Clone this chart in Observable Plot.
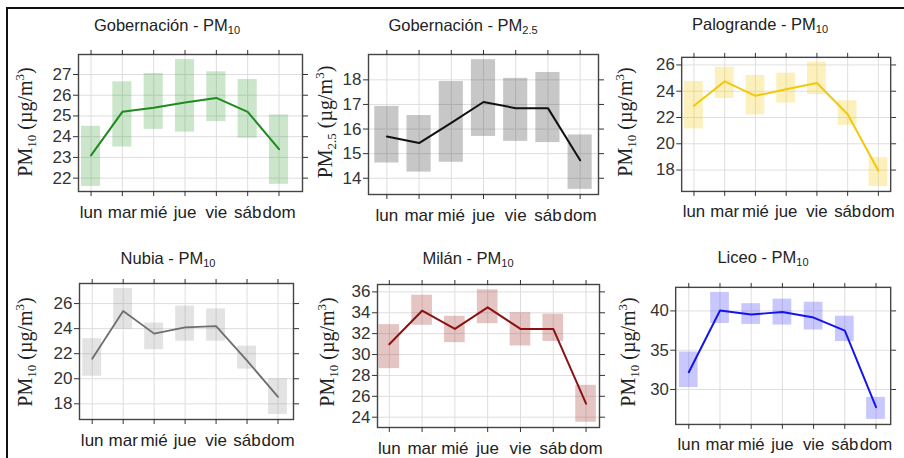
<!DOCTYPE html>
<html>
<head>
<meta charset="utf-8">
<script src="https://cdn.jsdelivr.net/npm/d3@7"></script>
<script src="https://cdn.jsdelivr.net/npm/@observablehq/plot@0.6"></script>
<style>
  body { margin: 0; background: #fff; }
  #fig { position: relative; width: 904px; height: 458px; overflow: hidden; background: #fff;
         font-family: "Liberation Sans", Arial, sans-serif; }
  .rule-top { position: absolute; left: 6px; top: 7px; width: 900px; height: 0; border-top: 2.5px solid #111; }
  .rule-left { position: absolute; left: 6px; top: 7px; width: 0; height: 460px; border-left: 2.5px solid #111; }
  .title { position: absolute; transform: translate(-50%, -50%); font-size: 16.5px; color: #222; white-space: nowrap; }
  .title sub { font-size: 11px; vertical-align: -3px; line-height: 0; }
  .ylab { position: absolute; transform: translate(-50%, -50%) rotate(-90deg); white-space: nowrap;
          font-family: "Liberation Serif", "Times New Roman", serif; font-size: 20px; color: #222; }
  .ylab sub { font-size: 13px; vertical-align: -4px; line-height: 0; }
  .ylab sup { font-size: 13px; vertical-align: 8px; line-height: 0; }
  .panel { position: absolute; }
</style>
</head>
<body>
<div id="fig"><div class="rule-top"></div><div class="rule-left"></div></div>
<script>
// Day-of-week categories
const days = ["lun", "mar", "mié", "jue", "vie", "sáb", "dom"];

// Gobernación PM10: daily mean and confidence band
const gobPm10Mean = [23.1, 25.2, 25.4, 25.65, 25.87, 25.2, 23.4];
const gobPm10Lo   = [21.6, 23.5, 24.35, 24.22, 24.73, 23.93, 21.7];
const gobPm10Hi   = [24.5, 26.65, 27.05, 27.72, 27.13, 26.76, 25.05];
const gobPm10Ticks = [22, 23, 24, 25, 26, 27];

// Gobernación PM2.5
const gobPm25Mean = [15.7, 15.43, 16.25, 17.1, 16.85, 16.85, 14.73];
const gobPm25Lo   = [14.62, 14.25, 14.65, 15.7, 15.5, 15.45, 13.55];
const gobPm25Hi   = [16.92, 16.55, 17.93, 18.82, 18.06, 18.3, 15.76];
const gobPm25Ticks = [14, 15, 16, 17, 18];

// Palogrande PM10
const palPm10Mean = [22.9, 24.75, 23.65, 24.15, 24.63, 22.25, 17.95];
const palPm10Lo   = [21.13, 23.45, 22.2, 23.1, 23.75, 21.4, 16.75];
const palPm10Hi   = [24.75, 25.82, 25.2, 25.38, 26.2, 23.28, 18.95];
const palPm10Ticks = [18, 20, 22, 24, 26];

// Nubia PM10
const nubPm10Mean = [21.6, 25.4, 23.6, 24.1, 24.2, 21.45, 18.55];
const nubPm10Lo   = [20.2, 23.95, 22.32, 23.0, 23.0, 20.77, 17.15];
const nubPm10Hi   = [23.2, 27.2, 24.45, 25.8, 25.57, 22.6, 20.0];
const nubPm10Ticks = [18, 20, 22, 24, 26];

// Milán PM10
const milPm10Mean = [30.98, 34.2, 32.45, 34.52, 32.45, 32.45, 25.3];
const milPm10Lo   = [28.65, 32.8, 31.14, 32.96, 30.82, 31.26, 23.52];
const milPm10Hi   = [32.86, 35.68, 33.66, 36.2, 34.0, 33.86, 27.05];
const milPm10Ticks = [24, 26, 28, 30, 32, 34, 36];

// Liceo PM10
const licPm10Mean = [32.2, 40.05, 39.55, 39.85, 39.15, 37.5, 27.75];
const licPm10Lo   = [30.25, 38.4, 38.28, 38.2, 37.57, 36.1, 26.2];
const licPm10Hi   = [34.77, 42.35, 40.92, 41.5, 41.1, 39.33, 29.0];
const licPm10Ticks = [30, 35, 40];

// Series definitions
const series = [
  { station: "Gobernación", sub: "10",  mean: gobPm10Mean, lo: gobPm10Lo, hi: gobPm10Hi, ticks: gobPm10Ticks },
  { station: "Gobernación", sub: "2.5", mean: gobPm25Mean, lo: gobPm25Lo, hi: gobPm25Hi, ticks: gobPm25Ticks },
  { station: "Palogrande",  sub: "10",  mean: palPm10Mean, lo: palPm10Lo, hi: palPm10Hi, ticks: palPm10Ticks },
  { station: "Nubia",       sub: "10",  mean: nubPm10Mean, lo: nubPm10Lo, hi: nubPm10Hi, ticks: nubPm10Ticks },
  { station: "Milán",       sub: "10",  mean: milPm10Mean, lo: milPm10Lo, hi: milPm10Hi, ticks: milPm10Ticks },
  { station: "Liceo",       sub: "10",  mean: licPm10Mean, lo: licPm10Lo, hi: licPm10Hi, ticks: licPm10Ticks }
];

// Colours per panel: line stroke and band fill
const styles = [
  { line: "#1f8a1f", band: "#2e9a2e", bandOpacity: 0.25, width: 2 },
  { line: "#111111", band: "#444444", bandOpacity: 0.3,  width: 2 },
  { line: "#f2c80a", band: "#f5d020", bandOpacity: 0.3,  width: 2 },
  { line: "#6e6e6e", band: "#9a9a9a", bandOpacity: 0.28, width: 1.8 },
  { line: "#8b1212", band: "#a83a3a", bandOpacity: 0.3,  width: 2 },
  { line: "#1414f0", band: "#3a3aff", bandOpacity: 0.28, width: 2 }
];

// Panel geometry: plotting box (left, top, width, height), x extent in day units,
// band width in day units, title centre and y-label centre
const layout = [
  { box: [78, 54, 224, 137], xDom: [-0.40, 6.75], bw: 0.61, title: [167, 25], ylab: [25, 122] },
  { box: [368, 54, 230, 140], xDom: [-0.57, 6.57], bw: 0.75, title: [463, 25], ylab: [325, 122] },
  { box: [682, 57, 212, 136], xDom: [-0.40, 6.40], bw: 0.61, title: [760, 24], ylab: [625, 122] },
  { box: [79, 283, 214, 136], xDom: [-0.41, 6.50], bw: 0.61, title: [168, 258], ylab: [25, 352] },
  { box: [377, 284, 222, 143], xDom: [-0.36, 6.41], bw: 0.63, title: [468, 258], ylab: [327, 352] },
  { box: [676, 287, 218, 139], xDom: [-0.42, 6.47], bw: 0.60, title: [763, 257], ylab: [628, 352] }
];

const fig = document.getElementById("fig");
const idx = d3.range(days.length);
const mL = 60, mR = 14, mT = 10, mB = 32;

series.forEach((s, k) => {
  const L = layout[k], st = styles[k];
  const rows = idx.map(i => ({ i, mean: s.mean[i], lo: s.lo[i], hi: s.hi[i] }));
  // y extent: data range widened by 4% on each side
  const ext = [d3.min(s.lo), d3.max(s.hi)];
  const pad = (ext[1] - ext[0]) * 0.04;
  const [bx, by, bwPx, bhPx] = L.box;

  const svg = Plot.plot({
    width: bwPx + mL + mR,
    height: bhPx + mT + mB,
    marginLeft: mL, marginRight: mR, marginTop: mT, marginBottom: mB,
    style: { fontSize: "17px", fontFamily: "'Liberation Sans', Arial, sans-serif", color: "#333", background: "transparent", overflow: "visible" },
    x: { type: "linear", domain: L.xDom },
    y: { type: "linear", domain: [ext[0] - pad, ext[1] + pad] },
    marks: [
      Plot.gridX({ ticks: idx, stroke: "#dedede", strokeOpacity: 1, strokeWidth: 1 }),
      Plot.gridY({ ticks: s.ticks, stroke: "#dedede", strokeOpacity: 1, strokeWidth: 1 }),
      Plot.rect(rows, { x1: d => d.i - L.bw / 2, x2: d => d.i + L.bw / 2, y1: "lo", y2: "hi",
                        fill: st.band, fillOpacity: st.bandOpacity }),
      Plot.line(rows, { x: "i", y: "mean", stroke: st.line, strokeWidth: st.width }),
      Plot.frame({ stroke: "#444", strokeWidth: 1.4 }),
      Plot.axisX({ ticks: idx, tickFormat: i => days[i], tickSize: 5, tickPadding: 9, label: null, fill: "#222" }),
      Plot.axisX({ anchor: "top", ticks: idx, tickFormat: () => "", tickSize: 5, label: null }),
      Plot.axisY({ ticks: s.ticks, tickFormat: d => String(d), tickSize: 5, tickPadding: 2, label: null, fill: "#333" }),
      Plot.axisY({ anchor: "right", ticks: s.ticks, tickFormat: () => "", tickSize: 5, label: null })
    ]
  });
  const wrap = document.createElement("div");
  wrap.className = "panel";
  wrap.style.left = (bx - mL) + "px";
  wrap.style.top = (by - mT) + "px";
  wrap.appendChild(svg);
  fig.appendChild(wrap);

  const t = document.createElement("div");
  t.className = "title";
  t.style.left = L.title[0] + "px";
  t.style.top = L.title[1] + "px";
  t.innerHTML = `${s.station} - PM<sub>${s.sub}</sub>`;
  fig.appendChild(t);

  const yl = document.createElement("div");
  yl.className = "ylab";
  yl.style.left = L.ylab[0] + "px";
  yl.style.top = L.ylab[1] + "px";
  yl.innerHTML = `PM<sub>${s.sub}</sub> (µg/m<sup>3</sup>)`;
  fig.appendChild(yl);
});
</script>
</body>
</html>
